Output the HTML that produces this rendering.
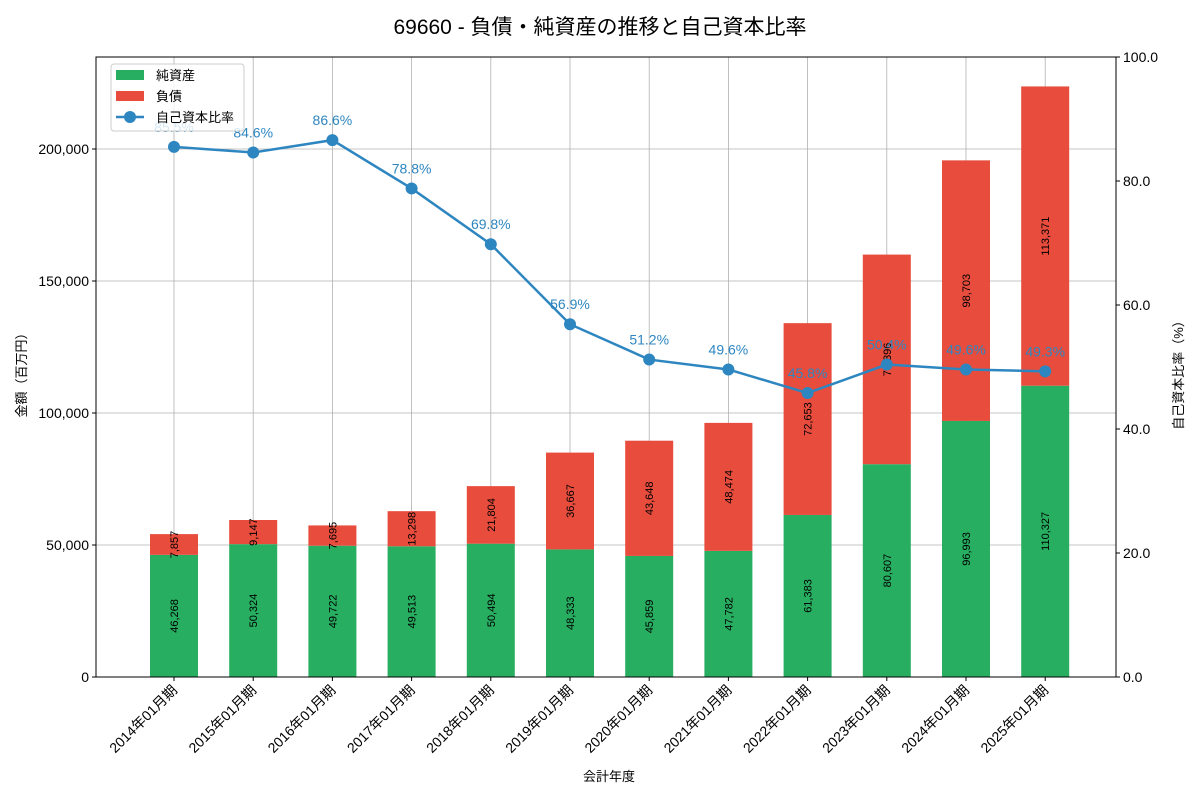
<!DOCTYPE html>
<html><head><meta charset="utf-8"><style>
body{margin:0;background:#fff;font-family:"Liberation Sans","Noto Sans CJK JP",sans-serif}
text{font-family:"Liberation Sans","Noto Sans CJK JP",sans-serif}
</style></head><body>
<svg id="c" width="1200" height="800"></svg>
<script>
const categories=["2014年01月期","2015年01月期","2016年01月期","2017年01月期","2018年01月期","2019年01月期","2020年01月期","2021年01月期","2022年01月期","2023年01月期","2024年01月期","2025年01月期"];
const equity=[46268,50324,49722,49513,50494,48333,45859,47782,61383,80607,96993,110327];
const liabilities=[7857,9147,7695,13298,21804,36667,43648,48474,72653,79396,98703,113371];
const ratio=[85.5,84.6,86.6,78.8,69.8,56.9,51.2,49.6,45.8,50.4,49.6,49.3];
const leftTicks=[0,50000,100000,150000,200000];
const rightTicks=[0,20,40,60,80,100];
const NS="http://www.w3.org/2000/svg";
const svg=document.getElementById('c');
const L=96,R=1116,T=57,B=677;
const yL=v=>B-v*(132/50000);
const yR=v=>B-v*(B-T)/100;
const xC=i=>174+i*79.2;
const bw=48;
function el(tag,attrs,parent){const e=document.createElementNS(NS,tag);for(const k in attrs)e.setAttribute(k,attrs[k]);(parent||svg).appendChild(e);return e;}
function txt(s,attrs,parent){const e=el('text',attrs,parent);e.textContent=s;return e;}
// title
const title=txt("69660 - 負債・純資産の推移と自己資本比率",{x:600,y:34,'text-anchor':'middle','font-size':21,fill:'#000'});


// grid
const grid=el('g',{});


categories.forEach((c,i)=>{el('line',{x1:xC(i),x2:xC(i),y1:T,y2:B,stroke:'#b0b0b0','stroke-width':0.8},grid);});
leftTicks.forEach(v=>{el('line',{x1:L,x2:R,y1:yL(v),y2:yL(v),stroke:'#b0b0b0','stroke-width':0.8},grid);});
// bars
const bars=el('g',{});


categories.forEach((c,i)=>{
  const x=xC(i)-bw/2;
  const r1=el('rect',{x:x,y:yL(equity[i]),width:bw,height:B-yL(equity[i]),fill:'#27ae60'},bars);
  
  
  const top=equity[i]+liabilities[i];
  const r2=el('rect',{x:x,y:yL(top),width:bw,height:yL(equity[i])-yL(top),fill:'#e74c3c'},bars);
  
  
  [[equity[i]/2,equity[i]],[equity[i]+liabilities[i]/2,liabilities[i]]].forEach(([m,v])=>{
    const ty=yL(m),tx=xC(i)+4;
    const t=txt(v.toLocaleString('en-US'),{x:tx,y:ty,'text-anchor':'middle','font-size':11,transform:`rotate(-90 ${tx} ${ty})`},bars);
    
    
  });
});
// axes frame
const frame=el('rect',{x:L,y:T,width:R-L,height:B-T,fill:'none',stroke:'#000','stroke-width':1});


// left ticks
leftTicks.forEach(v=>{
  el('line',{x1:L-4,x2:L,y1:yL(v),y2:yL(v),stroke:'#000'});
  const t=txt(v.toLocaleString('en-US'),{x:L-7,y:yL(v)+5,'text-anchor':'end','font-size':14});
  
  
});
rightTicks.forEach(v=>{
  el('line',{x1:R,x2:R+4,y1:yR(v),y2:yR(v),stroke:'#000'});
  const t=txt(v.toFixed(1),{x:R+7,y:yR(v)+5,'font-size':14});
  
  
});
categories.forEach((c,i)=>{
  el('line',{x1:xC(i),x2:xC(i),y1:B,y2:B+4,stroke:'#000'});
  const tx=xC(i)+4,ty=B+14;
  const t=txt(c,{x:tx,y:ty,'text-anchor':'end','font-size':14,transform:`rotate(-45 ${tx} ${ty})`});
  
  
});
const xt=txt("会計年度",{x:609,y:781,'text-anchor':'middle','font-size':13});


const yt=txt("金額（百万円）",{x:26,y:372,'text-anchor':'middle','font-size':13,transform:'rotate(-90 26 372)'});


const yt2=txt("自己資本比率（%）",{x:1183,y:372,'text-anchor':'middle','font-size':13,transform:'rotate(-90 1183 372)'});


// line
const lg=el('g',{});


el('polyline',{points:ratio.map((v,i)=>xC(i)+','+yR(v)).join(' '),fill:'none',stroke:'#2e86c1','stroke-width':2.5},lg);
ratio.forEach((v,i)=>{
  const p=el('circle',{cx:xC(i),cy:yR(v),r:6,fill:'#2e86c1'},lg);
  
  
  const t=txt(v.toFixed(1)+'%',{x:xC(i),y:yR(v)-15,'text-anchor':'middle','font-size':14,fill:'#2e86c1'},lg);
  
  
});
// legend
const leg=el('g',{});


el('rect',{x:111,y:64,width:133,height:67,fill:'#fff','fill-opacity':0.8,stroke:'#ccc',rx:3},leg);
el('rect',{x:116,y:70,width:28,height:10,fill:'#27ae60'},leg);
txt("純資産",{x:156,y:80,'font-size':13},leg);
el('rect',{x:116,y:91,width:28,height:10,fill:'#e74c3c'},leg);
txt("負債",{x:156,y:101,'font-size':13},leg);
el('line',{x1:116,x2:144,y1:117,y2:117,stroke:'#2e86c1','stroke-width':2.5},leg);
el('circle',{cx:130,cy:117,r:6,fill:'#2e86c1'},leg);
txt("自己資本比率",{x:156,y:122,'font-size':13},leg);
</script>
</body></html>
